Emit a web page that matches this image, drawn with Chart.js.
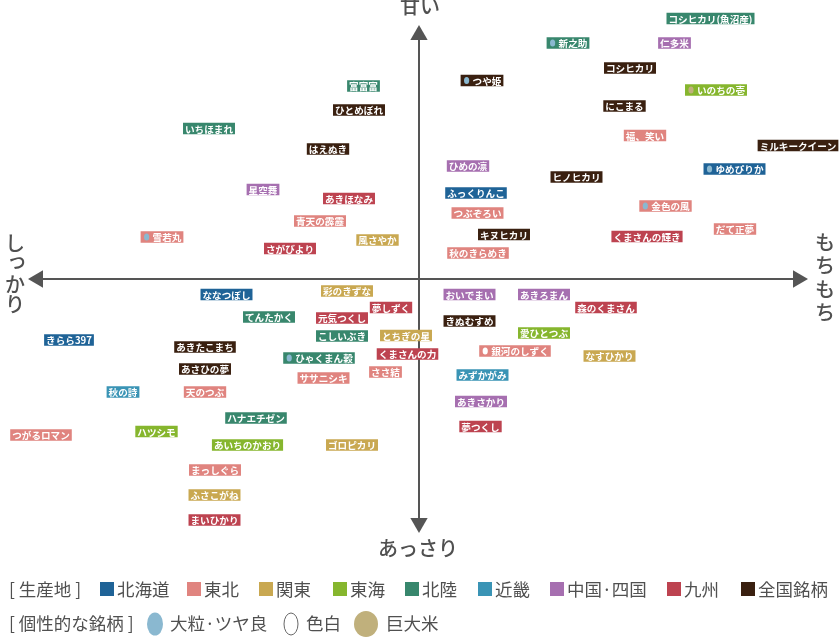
<!DOCTYPE html>
<html lang="ja">
<head>
<meta charset="utf-8">
<title>お米の食味マップ</title>
<style>
  html, body { margin: 0; padding: 0; background: #fff; }
  canvas { display: block; }
</style>
<script src="https://cdn.jsdelivr.net/npm/chart.js@4"></script>
</head>
<body>
<canvas id="riceChart" width="840" height="640"></canvas>
<script>
// x: しっかり(-) ... もちもち(+), y: あっさり(-) ... 甘い(+)
const hokkaidoNames = ['ゆめぴりか', 'ふっくりんこ', 'ななつぼし', 'きらら397'];
const hokkaidoX = [315.5, 57, -192.5, -350];
const hokkaidoY = [110, 86, -15.5, -61];

const tohokuNames = ['福、笑い', '金色の風', 'つぶぞろい', 'だて正夢', '秋のきらめき', '青天の霹靂', '雪若丸', 'ササニシキ', 'ささ結', '天のつぶ', 'つがるロマン', 'まっしぐら', '銀河のしずく'];
const tohokuX = [226, 246.5, 58.5, 316, 59, -99, -257, -95.5, -33.5, -214, -378, -204, 96];
const tohokuY = [143.5, 73, 66, 50, 26, 58, 42, -99, -93, -113, -156, -191, -72];

const kantoNames = ['風さやか', '彩のきずな', 'とちぎの星', 'なすひかり', 'ゴロピカリ', 'ふさこがね'];
const kantoX = [-41.5, -72, -13, 190.5, -67, -204.5];
const kantoY = [39, -12, -56.5, -77, -166, -216];

const tokaiNames = ['いのちの壱', '愛ひとつぶ', 'ハツシモ', 'あいちのかおり'];
const tokaiX = [297, 125, -262.5, -171.5];
const tokaiY = [189, -54, -152.5, -166];

const hokurikuNames = ['コシヒカリ(魚沼産)', '新之助', '富富富', 'いちほまれ', 'てんたかく', 'こしいぶき', 'ひゃくまん穀', 'ハナエチゼン'];
const hokurikuX = [291.5, 149, -55.5, -210, -150, -77, -100, -163];
const hokurikuY = [260.5, 236, 193, 150.5, -38, -57, -79, -139];

const kinkiNames = ['秋の詩', 'みずかがみ'];
const kinkiX = [-296, 63.5];
const kinkiY = [-113, -96];

const chugokuNames = ['仁多米', 'ひめの凛', '星空舞', 'おいでまい', 'あきろまん', 'あきさかり'];
const chugokuX = [255.5, 49, -156, 50.5, 125, 62];
const chugokuY = [236, 113, 89.5, -15.5, -15.5, -122.5];

const kyushuNames = ['くまさんの輝き', 'あきほなみ', 'さがびより', '夢しずく', '元気つくし', 'くまさんの力', '森のくまさん', '夢つくし', 'まいひかり'];
const kyushuX = [228, -70, -129, -28, -77, -11.5, 187, 61.5, -204.5];
const kyushuY = [42.5, 80.5, 30.5, -28.5, -39, -75, -28.5, -147.5, -241];

const nationalNames = ['コシヒカリ', 'つや姫', 'にこまる', 'ミルキークイーン', 'ヒノヒカリ', 'キヌヒカリ', 'ひとめぼれ', 'はえぬき', 'きぬむすめ', 'あきたこまち', 'あさひの夢'];
const nationalX = [211, 63, 205.5, 379, 157.5, 85, -60, -91, 50.5, -214, -214];
const nationalY = [211, 198.5, 173, 133.5, 102, 44.5, 169, 130, -42, -68, -90];

// 個性的な銘柄
const bigGrain = ['新之助', 'つや姫', 'ゆめぴりか', '金色の風', '雪若丸', 'ひゃくまん穀'];
const whiteGrain = ['銀河のしずく'];
const giantGrain = ['いのちの壱'];

const regionLabels = ['北海道', '東北', '関東', '東海', '北陸', '近畿', '中国·四国', '九州', '全国銘柄'];
const regionColors = ['#1f6397', '#e0847f', '#c9a851', '#86b62e', '#38876d', '#3a94b5', '#a66fb0', '#bd4350', '#3a2010'];
const regionNames = [hokkaidoNames, tohokuNames, kantoNames, tokaiNames, hokurikuNames, kinkiNames, chugokuNames, kyushuNames, nationalNames];
const regionX = [hokkaidoX, tohokuX, kantoX, tokaiX, hokurikuX, kinkiX, chugokuX, kyushuX, nationalX];
const regionY = [hokkaidoY, tohokuY, kantoY, tokaiY, hokurikuY, kinkiY, chugokuY, kyushuY, nationalY];

const FONT = '"Noto Sans CJK JP", "Noto Sans", sans-serif';
const TEXT_GREY = '#505050';
const BLUE_GRAIN = '#8ab8d0';
const TAN_GRAIN = '#c0b07c';

function grainColor(name) {
    if (bigGrain.includes(name)) return BLUE_GRAIN;
    if (whiteGrain.includes(name)) return '#ffffff';
    if (giantGrain.includes(name)) return TAN_GRAIN;
    return null;
}

// the brand name boxes are the marks of this chart
const brandBoxes = {
    id: 'brandBoxes',
    afterDatasetsDraw(chart) {
        const ctx = chart.ctx;
        ctx.save();
        ctx.font = '700 9.6px ' + FONT;
        ctx.textBaseline = 'middle';
        ctx.textAlign = 'left';
        chart.data.datasets.forEach((ds, i) => {
            if (!ds.brands) return;
            chart.getDatasetMeta(i).data.forEach((pt, j) => {
                const name = ds.brands[j];
                const grain = grainColor(name);
                const w = ctx.measureText(name).width + 4 + (grain ? 10 : 0);
                const left = pt.x - w / 2;
                ctx.fillStyle = ds.backgroundColor;
                ctx.fillRect(left, pt.y - 5.75, w, 11.5);
                let textX = left + 2;
                if (grain) {
                    ctx.fillStyle = grain;
                    ctx.beginPath();
                    ctx.ellipse(left + 6, pt.y, 2.6, 3.6, 0, 0, Math.PI * 2);
                    ctx.fill();
                    textX += 10;
                }
                ctx.fillStyle = '#ffffff';
                ctx.fillText(name, textX, pt.y + 0.5);
            });
        });
        ctx.restore();
    }
};

function drawColumn(ctx, chars, x, y, step) {
    chars.forEach((c, i) => {
        const small = c === 'っ';
        ctx.fillText(c, x + (small ? 2 : 0), y + i * step - (small ? 3 : 0));
    });
}

function drawGrain(ctx, cx, cy, rx, ry, fill, stroke) {
    ctx.beginPath();
    ctx.ellipse(cx, cy, rx, ry, 0, 0, Math.PI * 2);
    ctx.fillStyle = fill;
    ctx.fill();
    if (stroke) {
        ctx.strokeStyle = stroke;
        ctx.lineWidth = 1;
        ctx.stroke();
    }
}

// axis words and the two legend rows
const axisWordsAndKey = {
    id: 'axisWordsAndKey',
    afterDraw(chart) {
        const ctx = chart.ctx;
        const sx = chart.scales.x;
        ctx.save();
        ctx.fillStyle = TEXT_GREY;
        ctx.textBaseline = 'middle';
        ctx.textAlign = 'center';
        ctx.font = '500 20px ' + FONT;
        ctx.fillText('甘い', sx.getPixelForValue(0) + 1, 6);
        ctx.fillText('あっさり', sx.getPixelForValue(0) - 1, 548);
        drawColumn(ctx, Array.from('しっかり'), 15, 243, 20.5);
        drawColumn(ctx, Array.from('もちもち'), 825, 242, 23.5);

        ctx.textAlign = 'left';
        ctx.font = '17.5px ' + FONT;
        const row1 = 589, row2 = 623;
        ctx.fillText('[ 生産地 ]', 9, row1);
        const swatchX = [100, 187, 259, 333, 405, 478, 550, 667, 741];
        regionLabels.forEach((label, i) => {
            ctx.fillStyle = regionColors[i];
            ctx.fillRect(swatchX[i], row1 - 7, 14, 14);
            ctx.fillStyle = TEXT_GREY;
            ctx.fillText(label, swatchX[i] + 17, row1);
        });
        ctx.fillText('[ 個性的な銘柄 ]', 9, row2);
        drawGrain(ctx, 155, row2 + 1, 8, 11.5, BLUE_GRAIN);
        ctx.fillStyle = TEXT_GREY;
        ctx.fillText('大粒·ツヤ良', 170, row2);
        drawGrain(ctx, 291, row2 + 1, 7, 11, '#ffffff', '#666666');
        ctx.fillStyle = TEXT_GREY;
        ctx.fillText('色白', 306, row2);
        drawGrain(ctx, 366, row2 + 1, 12, 13, TAN_GRAIN);
        ctx.fillStyle = TEXT_GREY;
        ctx.fillText('巨大米', 386, row2);
        ctx.restore();
    }
};

const brandSets = regionLabels.map((label, i) => ({
    label: label,
    brands: regionNames[i],
    data: regionNames[i].map((_, j) => ({ x: regionX[i][j], y: regionY[i][j] })),
    backgroundColor: regionColors[i],
    pointRadius: 0,
}));

const axisColor = '#555555';
const axisSet = (data, rotation) => ({
    data: data,
    showLine: true,
    borderColor: axisColor,
    borderWidth: 2,
    backgroundColor: axisColor,
    pointStyle: 'triangle',
    pointRadius: 10,
    pointBorderWidth: 0,
    rotation: rotation,
});

new Chart(document.getElementById('riceChart'), {
    type: 'scatter',
    data: {
        datasets: [
            axisSet([{ x: -381, y: 0 }, { x: 379, y: 0 }], [270, 90]),
            axisSet([{ x: 0, y: 244 }, { x: 0, y: -244 }], [0, 180]),
            ...brandSets,
        ],
    },
    options: {
        responsive: false,
        animation: false,
        layout: { padding: 0, autoPadding: false },
        scales: {
            x: { type: 'linear', min: -419, max: 421, display: false },
            y: { type: 'linear', min: -361, max: 279, display: false },
        },
        plugins: {
            legend: { display: false },
            tooltip: { enabled: false },
        },
    },
    plugins: [brandBoxes, axisWordsAndKey],
});
</script>
</body>
</html>
